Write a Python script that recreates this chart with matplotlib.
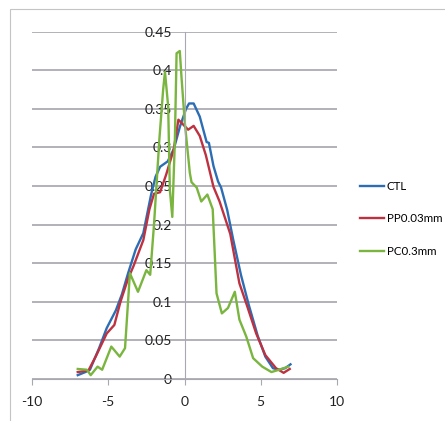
import matplotlib
matplotlib.use('Agg')
import matplotlib.pyplot as plt
from matplotlib.patches import Rectangle

# ------------- Datos -------------
ctl_x = [-7.0, -6.5, -6.2, -5.6, -5.1, -4.5, -4.1, -3.7, -3.2, -2.7, -2.2, -1.9, -1.6, -1.1,
         -0.7, -0.3, 0.1, 0.3, 0.6, 1.0, 1.3, 1.45, 1.6, 1.9, 2.2, 2.4, 2.8, 3.2, 3.7, 4.2,
         4.8, 5.3, 5.8, 6.2, 6.6, 6.95]
ctl_y = [0.005, 0.009, 0.012, 0.040, 0.066, 0.089, 0.110, 0.137, 0.168, 0.189, 0.238, 0.262,
         0.275, 0.282, 0.298, 0.327, 0.350, 0.357, 0.357, 0.340, 0.318, 0.307, 0.306, 0.276,
         0.256, 0.248, 0.219, 0.180, 0.135, 0.097, 0.056, 0.029, 0.014, 0.012, 0.014, 0.019]

pp_x = [-7.0, -6.3, -5.8, -5.1, -4.6, -4.2, -3.7, -3.35, -2.7, -2.3, -2.0, -1.6, -1.2, -0.7,
        -0.4, -0.1, 0.24, 0.6, 1.0, 1.4, 1.9, 2.3, 3.0, 3.6, 4.1, 4.7, 5.3, 6.0, 6.5, 6.9]
pp_y = [0.009, 0.011, 0.030, 0.059, 0.070, 0.100, 0.130, 0.146, 0.180, 0.220, 0.240, 0.242,
        0.265, 0.298, 0.336, 0.330, 0.323, 0.328, 0.315, 0.290, 0.249, 0.230, 0.188, 0.124,
        0.095, 0.059, 0.031, 0.014, 0.008, 0.013]

pc_x = [-7.0, -6.4, -6.15, -5.7, -5.4, -4.8, -4.25, -3.9, -3.58, -3.05, -2.5, -2.25, -2.0,
        -1.65, -1.4, -1.28, -1.07, -0.96, -0.8, -0.63, -0.52, -0.31, -0.2, 0.02, 0.35, 0.46,
        0.8, 1.1, 1.5, 1.85, 2.1, 2.45, 2.85, 3.3, 3.6, 4.05, 4.5, 5.1, 5.7, 6.2, 6.8]
pc_y = [0.013, 0.012, 0.005, 0.016, 0.012, 0.042, 0.029, 0.040, 0.137, 0.113, 0.141, 0.135,
        0.200, 0.310, 0.375, 0.398, 0.353, 0.245, 0.210, 0.310, 0.422, 0.425, 0.392, 0.332,
        0.267, 0.255, 0.248, 0.230, 0.239, 0.220, 0.111, 0.085, 0.092, 0.113, 0.077, 0.055,
        0.027, 0.016, 0.009, 0.012, 0.016]

labels = ['CTL', 'PP0.03mm', 'PC0.3mm']
colores = ['#2c6db4', '#be3140', '#7ab53f']
x_ticks = [-10, -5, 0, 5, 10]
y_ticks = [0, 0.05, 0.1, 0.15, 0.2, 0.25, 0.3, 0.35, 0.4, 0.45]
y_labels = ['0', '0.05', '0.1', '0.15', '0.2', '0.25', '0.3', '0.35', '0.4', '0.45']

# fuente algo estrecha (el original usa Calibri)
plt.rcParams['font.family'] = ['Lato', 'DejaVu Sans']

# ------------- Figura -------------
fig = plt.figure(figsize=(4.45, 4.21), dpi=100)
fig.patches.append(Rectangle((10/445, -0.05), 1.0, 0.05 + 1 - 9/421, transform=fig.transFigure,
                             fill=False, edgecolor='#c4c4c4', lw=0.8))
ax = fig.add_axes([32/445, 1 - 379/421, 305/445, (379 - 31.7)/421])

for xs, ys, lab, c in zip([ctl_x, pp_x, pc_x], [ctl_y, pp_y, pc_y], labels, colores):
    ax.plot(xs, ys, color=c, lw=1.7, label=lab, solid_joinstyle='round')

ax.set_xlim(-10, 10)
ax.set_ylim(0, 0.45)
ax.set_xticks(x_ticks)
ax.set_xticklabels([str(t) for t in x_ticks])
ax.set_yticks(y_ticks)
ax.set_yticklabels(y_labels)
ax.yaxis.grid(True, color='#9c9ca4', lw=1.1)
ax.set_axisbelow(True)

for s in ['top', 'right']:
    ax.spines[s].set_visible(False)
ax.spines['left'].set_position(('data', 0))
ax.spines['left'].set_color('#a8a8b0')
ax.spines['bottom'].set_color('#a8a8b0')
ax.tick_params(axis='x', length=4, color='#a8a8b0', pad=8, labelsize=10, labelcolor='#222222')
ax.tick_params(axis='y', length=0, pad=9, labelsize=10, labelcolor='#222222')

fig.legend(loc='center left', bbox_to_anchor=(360/445, 1 - 219/421), frameon=False,
           fontsize=8.3, handlelength=2.1, handletextpad=0.2, labelspacing=1.9,
           borderpad=0, borderaxespad=0)

fig.savefig('out.png', dpi=100)
